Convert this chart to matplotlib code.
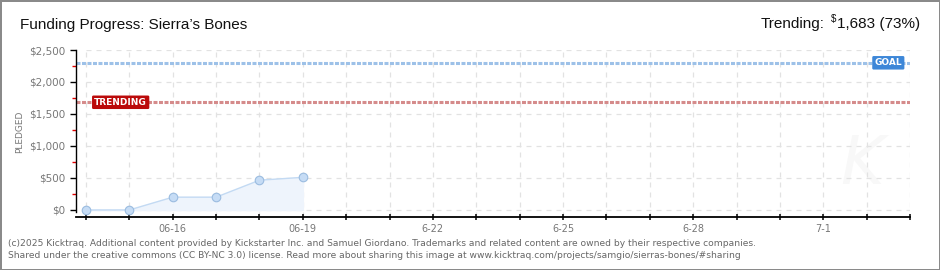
"""Kicktraq-style funding progress chart for Sierra's Bones."""

import matplotlib
matplotlib.use("Agg")
import matplotlib.pyplot as plt

# data
day_labels = ["06-14", "06-15", "06-16", "06-17", "06-18", "06-19"]
pledged = [0, 0, 200, 200, 465, 510]
goal = 2300
trending = 1683
trending_pct = 73

tick_days = [2, 5, 8, 11, 14, 17]
tick_labels = ["06-16", "06-19", "6-22", "6-25", "6-28", "7-1"]
y_ticks = [0, 500, 1000, 1500, 2000, 2500]
y_tick_labels = ["$0", "$500", "$1,000", "$1,500", "$2,000", "$2,500"]
y_minor = [250, 750, 1250, 1750, 2250]
n_days = 20

title_font = ["Liberation Sans", "DejaVu Sans"]
tick_color = "#777777"

fig = plt.figure(figsize=(9.4, 2.7), dpi=100)
fig.patch.set_facecolor("white")
fig.patch.set_edgecolor("#8a8a8a")
fig.patch.set_linewidth(2)

ax = fig.add_axes([76 / 940, 53 / 270, (910 - 76) / 940, (217 - 50) / 270])
ax.set_xlim(-0.23, n_days - 1)
ax.set_ylim(-110, 2500)

# faint watermark
ax.text(17.9, 700, "K", fontsize=48, style="italic", color="#f8f8f8",
        ha="center", va="center", zorder=0)

# grid
for d in range(n_days):
    ax.plot([d, d], [-110, 2500], color="#e2e2e2", lw=0.9, ls=(0, (4, 4)), zorder=0)
for yv in y_ticks:
    ax.plot([0, n_days - 1], [yv, yv], color="#e2e2e2", lw=0.9, ls=(0, (4, 4)), zorder=0)

# goal / trending lines
ax.axhline(goal, color="#9dc1e8", lw=2.2, ls=(0, (1.3, 0.5)), zorder=2)
ax.axhline(trending, color="#d58b8b", lw=2.2, ls=(0, (1.3, 0.5)), zorder=2)

# pledged series
x = list(range(len(pledged)))
ax.fill_between(x, pledged, 0, color="#eef4fc", zorder=1)
ax.plot(x, pledged, color="#c3daf3", lw=1, zorder=3)
ax.scatter(x, pledged, s=38, color="#c6dcf5", edgecolor="#9bbce0", linewidth=0.8, zorder=4)

# label badges
ax.text(18.5, goal, "GOAL", ha="center", va="center", fontsize=6.5,
        color="white", fontweight="bold", zorder=5,
        bbox=dict(boxstyle="round,pad=0.25,rounding_size=0.15", fc="#3d87d8", ec="none"))
ax.text(0.8, trending, "TRENDING", ha="center", va="center", fontsize=6.5,
        color="white", fontweight="bold", zorder=5,
        bbox=dict(boxstyle="round,pad=0.25,rounding_size=0.15", fc="#bb0a0a", ec="none"))

# axes styling
for side in ["top", "right"]:
    ax.spines[side].set_visible(False)
ax.spines["left"].set_color("black")
ax.spines["left"].set_bounds(-30, 2500)
ax.spines["bottom"].set_color("black")
ax.spines["bottom"].set_linewidth(1.3)
ax.spines["left"].set_linewidth(1.0)

ax.set_xticks(range(n_days))
ax.set_xticklabels([""] * n_days)
ax.tick_params(axis="x", length=5, width=1.1, color="black", direction="inout")
for d, lab in zip(tick_days, tick_labels):
    ax.text(d, -290, lab, ha="center", va="center", fontsize=7, color=tick_color)

ax.set_yticks(y_ticks)
ax.set_yticklabels(y_tick_labels, fontsize=7.5, color=tick_color)
ax.set_yticks(y_minor, minor=True)
ax.tick_params(axis="y", which="major", length=4, width=1, color="black", pad=4)
ax.tick_params(axis="y", which="minor", length=3, width=1, color="#e00000")
ax.set_ylabel("PLEDGED", fontsize=6.5, color=tick_color)
ax.yaxis.set_label_coords(-52 / 834, (217 - 132) / 167)

# header texts
fig.text(20 / 940, 1 - 25 / 270, "Funding Progress: Sierra\u2019s Bones", fontsize=11,
         family=title_font, color="#111111", va="center", ha="left")

renderer = fig.canvas.get_renderer()
right = fig.text(920 / 940, 1 - 28 / 270, f"{trending:,} ({trending_pct}%)", fontsize=11,
                 family=title_font, color="#111111", va="baseline", ha="right")
bb = right.get_window_extent(renderer)
dollar = fig.text((bb.x0 - 1) / 940, 1 - 22 / 270, "$", fontsize=7,
                  family=title_font, color="#111111", va="baseline", ha="right")
bb2 = dollar.get_window_extent(renderer)
fig.text((bb2.x0 - 6) / 940, 1 - 28 / 270, "Trending:", fontsize=11,
         family=title_font, color="#111111", va="baseline", ha="right")

# footer
footer = [
    "(c)2025 Kicktraq. Additional content provided by Kickstarter Inc. and Samuel Giordano. "
    "Trademarks and related content are owned by their respective companies.",
    "Shared under the creative commons (CC BY-NC 3.0) license. Read more about sharing this "
    "image at www.kicktraq.com/projects/samgio/sierras-bones/#sharing",
]
fig.text(8 / 940, 1 - 243 / 270, footer[0], fontsize=6.6, color="#666666", va="center")
fig.text(8 / 940, 1 - 256 / 270, footer[1], fontsize=6.6, color="#666666", va="center")

fig.savefig("out.png", dpi=100, facecolor=fig.get_facecolor(), edgecolor=fig.get_edgecolor())
